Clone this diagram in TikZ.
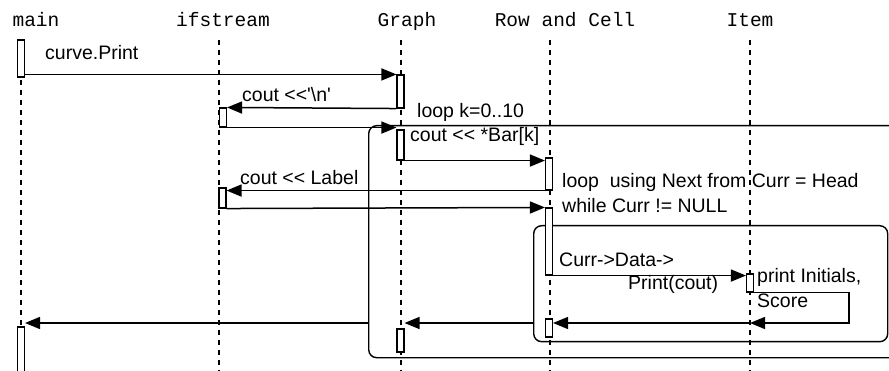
\documentclass[tikz,border=0pt]{standalone}
\usepackage{fontspec}
\setmainfont{Liberation Sans}
\setmonofont{Liberation Mono}
\usetikzlibrary{arrows.meta}

\begin{document}
\begin{tikzpicture}[x=1pt,y=-1pt,
	every node/.style={font=\fontsize{19.5}{22}\selectfont, inner sep=0pt},
	head/.style={font=\fontsize{19.5}{22}\selectfont\ttfamily, anchor=base},
	life/.style={dash pattern=on 5pt off 5pt, line width=1.1pt},
	bar/.style={draw, fill=white, line width=1.1pt, minimum width=7pt},
	msg/.style={-{Triangle[length=15pt,width=12pt]}, line width=1.5pt},
	frame/.style={draw, rounded corners=8pt, line width=1.4pt, anchor=north west},
	lbl/.style={anchor=base west}]
	\useasboundingbox (0,0) rectangle (889,371);
	\clip (0,0) rectangle (889,371);

	% heads and lifelines
	\node[head] (hmain) at (36,27) {main};
	\node[head] (hifs) at (223,27) {ifstream};
	\node[head] (hgraph) at (407,27) {Graph};
	\node[head] (hrow) at (565,27) {Row and Cell};
	\node[head] (hitem) at (750,27) {Item};
	\coordinate (Lmain) at (21,40);
	\coordinate (Lifs) at (219,40);
	\coordinate (Lgraph) at (401,40);
	\coordinate (Lrow) at (550,40);
	\coordinate (Litem) at (750,40);
	\foreach \l in {Lmain,Lifs,Lgraph,Lrow,Litem}
		\draw[life] (\l) -- (\l |- 0,371);

	% loop frames
	\node[frame, minimum width=537pt, minimum height=232pt] (outer) at (368,125) {};
	\node[frame, minimum width=354pt, minimum height=116pt] (inner) at (533,225) {};

	% activations
	\node[bar, minimum height=37pt] (m1) at (21,58.5) {};
	\node[bar, minimum height=33pt] (g1) at (400.5,91.5) {};
	\node[bar, minimum height=19pt] (i1) at (223,117.5) {};
	\node[bar, minimum height=30pt] (g2) at (400.5,145) {};
	\node[bar, minimum height=32pt] (r1) at (549,174) {};
	\node[bar, minimum height=20pt] (i2) at (222.5,198) {};
	\node[bar, minimum height=67pt] (r2) at (549,241.5) {};
	\node[bar, minimum height=18pt] (t1) at (750,283) {};
	\node[bar, minimum height=18pt] (r3) at (549,328) {};
	\node[bar, minimum height=23pt] (g3) at (400.5,340.5) {};
	\node[bar, minimum height=50pt] (m2) at (21,352) {};
	\coordinate (turn) at (849,323);

	% messages
	\draw[msg] (m1.east |- g1.north) -- (g1.north west);
	\draw[msg] (g1.south west) -- (i1.north east);
	\draw[msg] (i1.south east) -- (g2.west |- i1.south east);
	\draw[msg] (g2.south east) -- (r1.west |- g2.south east);
	\draw[msg] (r1.south west) -- (i2.east |- r1.south west);
	\draw[msg] (i2.south east) -- (r2.north west);
	\draw[msg] (r2.south east) -- (t1.west |- r2.south east);
	\draw[msg] (t1.south east) -| (turn) -- (turn -| Litem);
	\draw[msg] (turn -| Litem) -- (r3.east |- turn);
	\draw[msg] (inner.west |- turn) -- (g3.east |- turn);
	\draw[msg] (outer.west |- turn) -- (m2.east |- turn);

	% labels
	\node[lbl] (t-print) at (45,60) {curve.Print};
	\node[lbl] (t-nl) at (242,102) {cout <\kern0pt<\textquotesingle\textbackslash n\textquotesingle};
	\node[lbl] (t-loopk) at (417,118) {loop k=0..10};
	\node[lbl] (t-bar) at (410,142) {cout <\kern0pt< *Bar[k]};
	\node[lbl] (t-label) at (240,185) {cout <\kern0pt< Label};
	\node[lbl] (t-loopc) at (562,188) {loop\ \ using Next from Curr = Head};
	\node[lbl] (t-while) at (562,213) {while Curr != NULL};
	\node[lbl] (t-data) at (559,267) {Curr->Data->};
	\node[lbl] (t-cout) at (628,290) {Print(cout)};
	\node[lbl] (t-init) at (757,283) {print Initials,};
	\node[lbl] (t-score) at (757,308) {Score};
\end{tikzpicture}
\end{document}
